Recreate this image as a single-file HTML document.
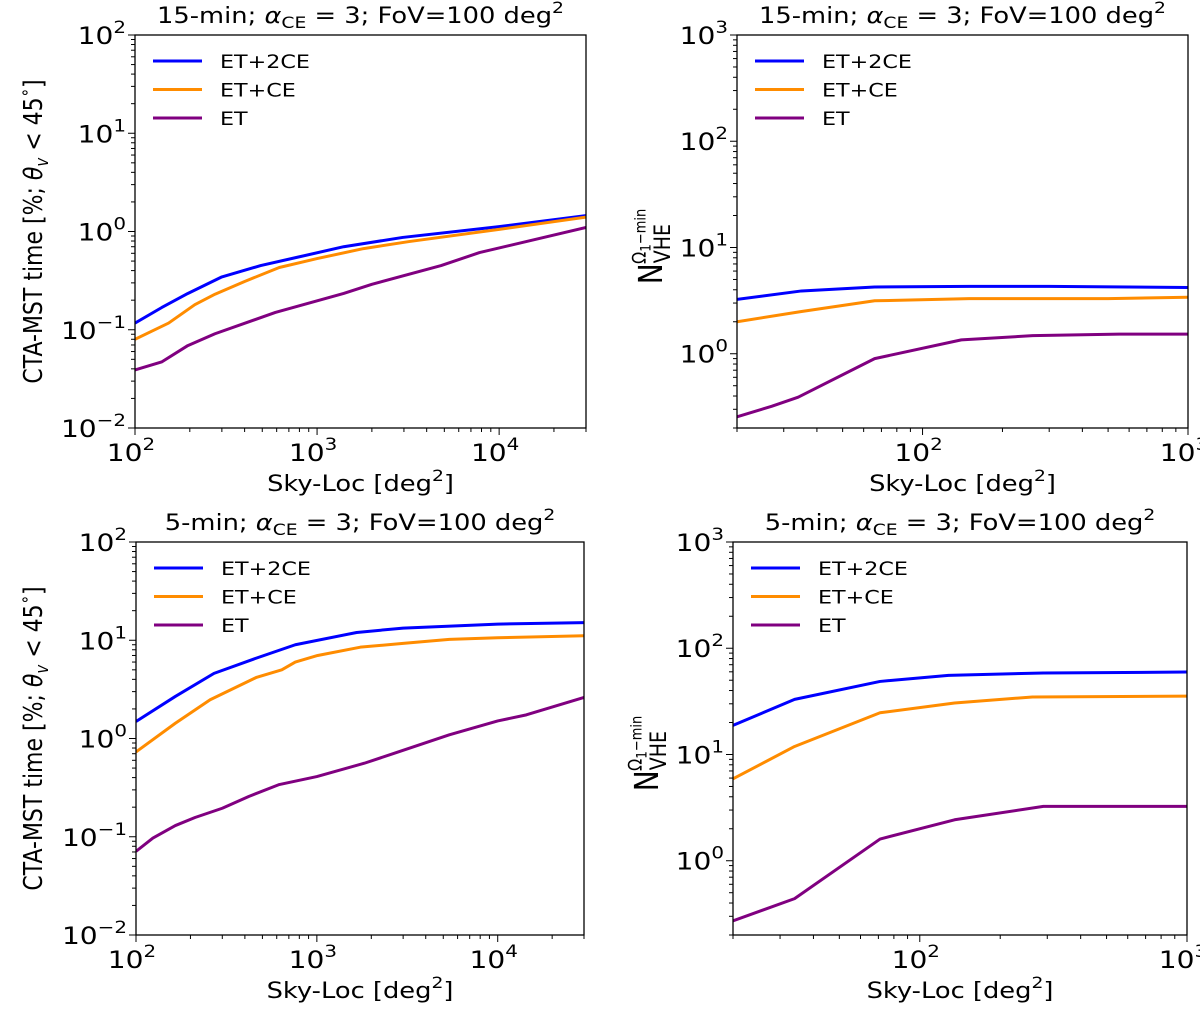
<!DOCTYPE html>
<html><head><meta charset="utf-8"><style>
html,body{margin:0;padding:0;background:#fff;}
svg{display:block;font-family:"DejaVu Sans","Liberation Sans",sans-serif;}
</style></head><body>
<svg id="fig" width="1200" height="1011" viewBox="0 0 1200 1011"></svg>
<script>
// ---- data: top-left (15-min, CTA-MST time) ----
const tlBlueX = [100,140,195,300,490,790,1400,2950,10000,30000];
const tlBlueY = [0.117,0.168,0.234,0.345,0.45,0.55,0.70,0.87,1.12,1.45];
const tlOrangeX = [100,153,213,275,400,620,1000,1800,3200,10000,30000];
const tlOrangeY = [0.08,0.117,0.18,0.23,0.31,0.43,0.53,0.67,0.79,1.05,1.4];
const tlPurpleX = [100,140,195,275,590,1400,2000,4800,7800,30000];
const tlPurpleY = [0.039,0.047,0.069,0.091,0.15,0.234,0.29,0.45,0.61,1.1];
// ---- data: top-right (15-min, N_VHE) ----
const trBlueX = [20,35,66,150,300,1000];
const trBlueY = [3.25,3.9,4.25,4.3,4.3,4.2];
const trOrangeX = [20,35,66,150,500,1000];
const trOrangeY = [2.0,2.5,3.15,3.3,3.3,3.4];
const trPurpleX = [20,27,34,66,140,260,550,1000];
const trPurpleY = [0.255,0.32,0.39,0.9,1.35,1.48,1.53,1.53];
// ---- data: bottom-left (5-min, CTA-MST time) ----
const blBlueX = [100,165,270,465,760,1660,3000,10000,30000];
const blBlueY = [1.49,2.68,4.6,6.6,9.0,12,13.3,14.6,15.1];
const blOrangeX = [100,165,257,465,640,760,1010,1740,3000,5400,10000,30000];
const blOrangeY = [0.73,1.43,2.48,4.2,5.0,6.0,7.0,8.5,9.3,10.2,10.6,11.1];
const blPurpleX = [100,124,165,212,300,420,620,1000,1830,2700,5400,10000,14400,30000];
const blPurpleY = [0.071,0.097,0.13,0.157,0.195,0.257,0.34,0.41,0.56,0.71,1.09,1.51,1.74,2.62];
// ---- data: bottom-right (5-min, N_VHE) ----
const brBlueX = [20,34,71,128,290,1000];
const brBlueY = [18.8,33,48.7,55.6,58.5,59.7];
const brOrangeX = [20,34,71,135,264,1000];
const brOrangeY = [5.9,11.9,24.7,30.5,34.8,35.4];
const brPurpleX = [20,34,71,135,290,1000];
const brPurpleY = [0.272,0.44,1.6,2.43,3.25,3.25];
// ---- labels ----
const seriesNames = ["ET+2CE","ET+CE","ET"];
const seriesColors = ["#0000ff","#ff8c00","#800080"];
const leftXTickExps = [2,3,4];
const leftYTickExps = [-2,-1,0,1,2];
const rightXTickExps = [2,3];
const rightYTickExps = [0,1,2,3];

const NS="http://www.w3.org/2000/svg";
const svg=document.getElementById('fig');
const SX=1.17;
function mk(tag,attrs,parent){const e=document.createElementNS(NS,tag);for(const k in attrs)e.setAttribute(k,attrs[k]);(parent||svg).appendChild(e);return e;}
function stext(g,x,y,size,anchor){return mk('text',{x:0,y:0,'font-size':size,'text-anchor':anchor,fill:'#000',transform:'translate('+x+','+y+') scale('+SX+',1)'},g);}

function powLabel(g,x,y,exp,anchor,name){
  const t=stext(g,x,y,24,anchor);
  
  
  const a=document.createElementNS(NS,'tspan');a.textContent='10';t.appendChild(a);
  const b=document.createElementNS(NS,'tspan');b.setAttribute('dy','-11');b.setAttribute('font-size','17');
  b.textContent=exp<0?('\u2212'+(-exp)):String(exp);t.appendChild(b);
}

function panel(cfg){
  const g=mk('g',{});
  
  
  const L=cfg.L,R=cfg.R,T=cfg.T,B=cfg.B;
  const lx0=Math.log10(cfg.xmin),lx1=Math.log10(cfg.xmax),ly0=Math.log10(cfg.ymin),ly1=Math.log10(cfg.ymax);
  const sx=v=>L+(Math.log10(v)-lx0)/(lx1-lx0)*(R-L);
  const sy=v=>B-(Math.log10(v)-ly0)/(ly1-ly0)*(B-T);
  const cid='clip-'+cfg.name;
  const cp=mk('clipPath',{id:cid},g);mk('rect',{x:L,y:T,width:R-L,height:B-T},cp);
  cfg.series.forEach((s,i)=>{
    const pts=s.x.map((xv,j)=>sx(xv).toFixed(2)+','+sy(s.y[j]).toFixed(2)).join(' ');
    const p=mk('polyline',{points:pts,fill:'none',stroke:seriesColors[i],'stroke-width':3,'stroke-linejoin':'round','clip-path':'url(#'+cid+')'},g);
    
    
  });
  const fr=mk('rect',{x:L,y:T,width:R-L,height:B-T,fill:'none',stroke:'#000','stroke-width':1.3},g);
  
  
  for(let e=Math.floor(lx0);e<=Math.ceil(lx1);e++){
    for(let m=1;m<10;m++){
      const v=m*Math.pow(10,e);const lv=Math.log10(v);
      if(lv<lx0-1e-6||lv>lx1+1e-6)continue;
      const x=sx(v);mk('line',{x1:x,x2:x,y1:B,y2:B+(m===1?7:4),stroke:'#000','stroke-width':1},g);
    }
  }
  cfg.xTicks.forEach(e=>{powLabel(g,sx(Math.pow(10,e))-4,B+33,e,'middle','x-tick-label');});
  for(let e=Math.floor(ly0);e<=Math.ceil(ly1);e++){
    for(let m=1;m<10;m++){
      const v=m*Math.pow(10,e);const lv=Math.log10(v);
      if(lv<ly0-1e-6||lv>ly1+1e-6)continue;
      const y=sy(v);mk('line',{x1:L,x2:L-(m===1?7:4),y1:y,y2:y,stroke:'#000','stroke-width':1},g);
    }
  }
  cfg.yTicks.forEach(e=>{powLabel(g,L-9,sy(Math.pow(10,e))+9,e,'end','y-tick-label');});
  const tt=stext(g,(L+R)/2,T-12,22,'middle');
  
  
  tt.innerHTML=cfg.titlePre+'-min; <tspan font-style="italic">α</tspan><tspan font-size="16" dy="5">CE</tspan><tspan dy="-5"> = 3; FoV=100 deg</tspan><tspan font-size="16" dy="-10">2</tspan>';
  const xl=stext(g,(L+R)/2,B+63,22,'middle');
  
  
  xl.innerHTML='Sky-Loc [deg<tspan font-size="16" dy="-10">2</tspan><tspan dy="10">]</tspan>';
  const cy=(T+B)/2;
  const yl=mk('text',{x:0,y:0,'font-size':cfg.left?22:28,'text-anchor':'middle',transform:'translate('+cfg.ylx+','+(cfg.left?cy:cy+15)+') rotate(-90) scale(1,'+SX+')'},g);
  
  
  if(cfg.left){
    yl.innerHTML='CTA-MST time [%; <tspan font-style="italic">θ</tspan><tspan font-size="15" dy="5" font-style="italic">v</tspan><tspan dy="-5"> &lt; 45</tspan><tspan font-size="15" dy="-10">∘</tspan><tspan dy="10">]</tspan>';
  } else {
    yl.innerHTML='N<tspan font-size="19" dy="7">VHE</tspan><tspan font-size="16" dx="-40" dy="-21">Ω</tspan><tspan font-size="12" dy="4">1</tspan><tspan font-size="13" dy="-4">−min</tspan>';
  }
  seriesNames.forEach((n,i)=>{
    const y=T+26+i*28.5;
    const ln=mk('line',{x1:L+18,x2:L+67,y1:y,y2:y,stroke:seriesColors[i],'stroke-width':3},g);
    
    
    const t=stext(g,L+85,y+7,19,'start');
    
    
    t.textContent=n;
  });
}

panel({name:'panel-top-left',L:135,R:586,T:35,B:428,xmin:100,xmax:30000,ymin:0.01,ymax:100,xTicks:leftXTickExps,yTicks:leftYTickExps,titlePre:'15',left:true,ylx:42,
  series:[{x:tlBlueX,y:tlBlueY},{x:tlOrangeX,y:tlOrangeY},{x:tlPurpleX,y:tlPurpleY}]});
panel({name:'panel-top-right',L:737,R:1188,T:35,B:428,xmin:20,xmax:1000,ymin:0.2,ymax:1000,xTicks:rightXTickExps,yTicks:rightYTickExps,titlePre:'15',left:false,ylx:662,
  series:[{x:trBlueX,y:trBlueY},{x:trOrangeX,y:trOrangeY},{x:trPurpleX,y:trPurpleY}]});
panel({name:'panel-bottom-left',L:136,R:584,T:542,B:935,xmin:100,xmax:30000,ymin:0.01,ymax:100,xTicks:leftXTickExps,yTicks:leftYTickExps,titlePre:'5',left:true,ylx:42,
  series:[{x:blBlueX,y:blBlueY},{x:blOrangeX,y:blOrangeY},{x:blPurpleX,y:blPurpleY}]});
panel({name:'panel-bottom-right',L:733,R:1187,T:542,B:935,xmin:20,xmax:1000,ymin:0.2,ymax:1000,xTicks:rightXTickExps,yTicks:rightYTickExps,titlePre:'5',left:false,ylx:658,
  series:[{x:brBlueX,y:brBlueY},{x:brOrangeX,y:brOrangeY},{x:brPurpleX,y:brPurpleY}]});
</script>
</body></html>
